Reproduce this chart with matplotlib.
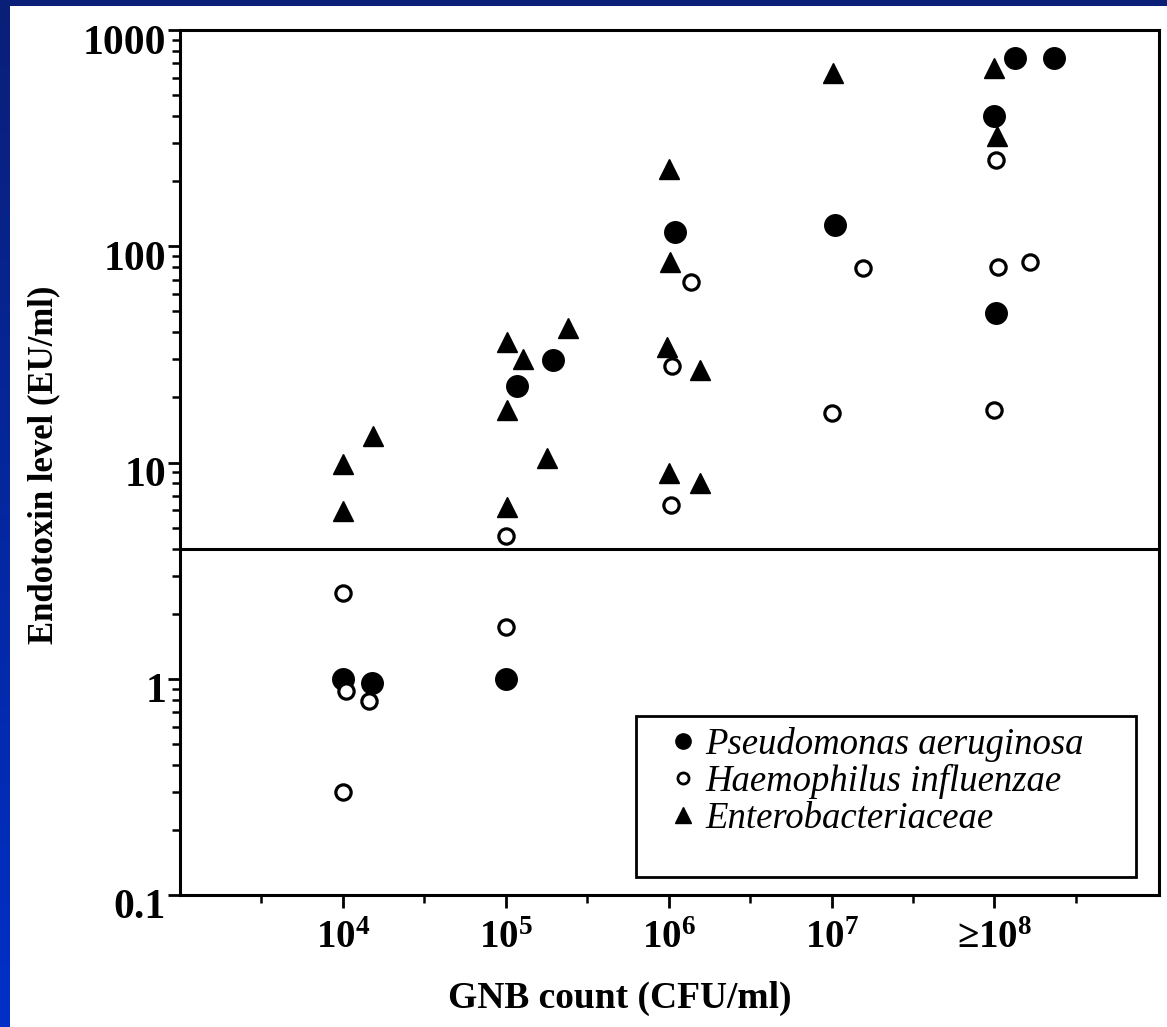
import matplotlib
matplotlib.use("Agg")
import matplotlib.pyplot as plt
import numpy as np
from matplotlib.lines import Line2D
from matplotlib.colors import LinearSegmentedColormap
from matplotlib.ticker import FixedLocator, NullFormatter
from matplotlib.transforms import ScaledTranslation

plt.rcParams["font.family"] = ["Liberation Serif", "DejaVu Serif"]
plt.rcParams["font.weight"] = "bold"
plt.rcParams["mathtext.fontset"] = "custom"
plt.rcParams["mathtext.rm"] = "Liberation Serif:bold"
plt.rcParams["mathtext.bf"] = "Liberation Serif:bold"
plt.rcParams["mathtext.it"] = "Liberation Serif:bold:italic"

# GNB count (CFU/ml) and endotoxin level (EU/ml)
pseudo_x = [1.0e4, 1.5e4, 1.0e5, 1.17e5, 1.95e5, 1.1e6, 1.05e7, 1.0e8, 1.33e8, 2.33e8, 1.02e8]
pseudo_y = [1.0, 0.96, 1.0, 22.5, 29.7, 116, 125, 399, 741, 741, 49]

haemo_x = [1.0e4, 1.05e4, 1.45e4, 1.0e4, 1.0e5, 1.0e5, 1.37e6, 1.05e6, 1.03e6, 1.57e7, 1.0e7,
           1.02e8, 1.05e8, 1.65e8, 1.0e8]
haemo_y = [2.5, 0.88, 0.79, 0.3, 4.57, 1.73, 68.4, 27.9, 6.36, 79, 16.9,
           250, 80, 84.5, 17.5]

entero_x = [1.0e4, 1.0e4, 1.53e4, 1.02e5, 1.28e5, 2.41e5, 1.02e5, 1.8e5, 1.02e5,
            1.0e6, 1.02e6, 0.98e6, 1.56e6, 1.01e6, 1.55e6, 1.02e7, 1.0e8, 1.03e8]
entero_y = [9.8, 5.95, 13.2, 36, 30, 42, 17.5, 10.5, 6.2,
            228, 84.5, 34.2, 26.8, 8.9, 8.0, 631, 668, 323]

threshold = 4.0
x_ticks = [1e4, 1e5, 1e6, 1e7, 1e8]
x_ticklabels = [r"$\mathbf{10^{4}}$", r"$\mathbf{10^{5}}$", r"$\mathbf{10^{6}}$",
                r"$\mathbf{10^{7}}$", r"≥$\mathbf{10^{8}}$"]
y_ticks = [0.1, 1, 10, 100, 1000]
y_ticklabels = ["0.1", "1", "10", "100", "1000"]
legend_labels = ["Pseudomonas aeruginosa", "Haemophilus influenzae", "Enterobacteriaceae"]

W, H = 1167, 1027
fig = plt.figure(figsize=(W / 100, H / 100), dpi=100, facecolor="white")

# blue slide frame: navy strip on top, gradient strip on the left
top = fig.add_axes([0, 1 - 6 / H, 1, 6 / H])
top.set_axis_off()
top.add_patch(plt.Rectangle((0, 0), 1, 1, color="#0a1f78", transform=top.transAxes))
left = fig.add_axes([0, 0, 10 / W, 1 - 6 / H])
grad = np.linspace(0, 1, 256).reshape(-1, 1)
cmap = LinearSegmentedColormap.from_list("frame", ["#0030c8", "#0a1f78"])
left.imshow(grad, aspect="auto", cmap=cmap, origin="lower")
left.set_axis_off()

x0, x1, y0, y1 = 180, 1159, 30, 895  # axes box in pixels
ax = fig.add_axes([x0 / W, 1 - y1 / H, (x1 - x0) / W, (y1 - y0) / H])
ax.set_xscale("log")
ax.set_yscale("log")
ax.set_xlim(1e3, 10 ** 9.01)
ax.set_ylim(0.1, 1000)

def px(xp, yp):
    # pixel position -> axes fraction
    return (xp - x0) / (x1 - x0), (y1 - yp) / (y1 - y0)

ax.axhline(threshold, color="black", lw=2.2, zorder=1)

ax.plot(pseudo_x, pseudo_y, "o", ms=15.5, color="black", mec="black", zorder=3)
ax.plot(haemo_x, haemo_y, "o", ms=11, mfc="white", mec="black", mew=2.3, zorder=3)
ax.plot(entero_x, entero_y, "^", ms=15, color="black", zorder=3)

for s in ax.spines.values():
    s.set_linewidth(2.2)

ax.xaxis.set_major_locator(FixedLocator(x_ticks))
ax.set_xticklabels(x_ticklabels, fontsize=28)
ax.xaxis.set_minor_locator(FixedLocator([10 ** (k + 0.5) for k in range(3, 9)]))
ax.xaxis.set_minor_formatter(NullFormatter())
ax.yaxis.set_major_locator(FixedLocator(y_ticks))
ax.set_yticklabels(y_ticklabels, fontsize=30)
ax.yaxis.set_minor_locator(FixedLocator(
    [m * 10.0 ** e for e in range(-1, 3) for m in range(2, 10)]))
ax.yaxis.set_minor_formatter(NullFormatter())

ax.tick_params(axis="both", which="major", direction="out", length=9, width=2)
ax.tick_params(axis="both", which="minor", direction="out", length=6, width=1.8)
ax.tick_params(axis="x", which="major", pad=9)
ax.tick_params(axis="y", which="major", pad=1)
for lab in ax.get_yticklabels():
    lab.set_transform(lab.get_transform() + ScaledTranslation(0, -9 / 100, fig.dpi_scale_trans))

fig.text(44 / W, 1 - 465 / H, "Endotoxin level (EU/ml)", rotation=90, fontsize=25,
         ha="center", va="center", fontweight="bold")
fig.text(620 / W, 1 - 998 / H, "GNB count (CFU/ml)", fontsize=27,
         ha="center", va="center", fontweight="bold")

# legend: frame drawn separately so the padding matches the original box
bx0, by0 = px(636, 877)
bx1, by1 = px(1136, 716)
ax.add_patch(plt.Rectangle((bx0, by0), bx1 - bx0, by1 - by0, transform=ax.transAxes,
                           facecolor="white", edgecolor="black", lw=2, zorder=4))
handles = [
    Line2D([], [], ls="none", marker="o", ms=11, color="black"),
    Line2D([], [], ls="none", marker="o", ms=8, mfc="white", mec="black", mew=2),
    Line2D([], [], ls="none", marker="^", ms=11.5, color="black"),
]
leg = ax.legend(handles, legend_labels, loc="upper left", bbox_to_anchor=px(665, 727),
                frameon=False,
                prop={"family": "Liberation Serif", "style": "italic", "weight": "normal", "size": 26.5},
                handletextpad=0.1, labelspacing=0.06, borderpad=0, handlelength=1.0,
                borderaxespad=0)
leg.set_zorder(5)

fig.savefig("out.png", dpi=100, facecolor="white")
